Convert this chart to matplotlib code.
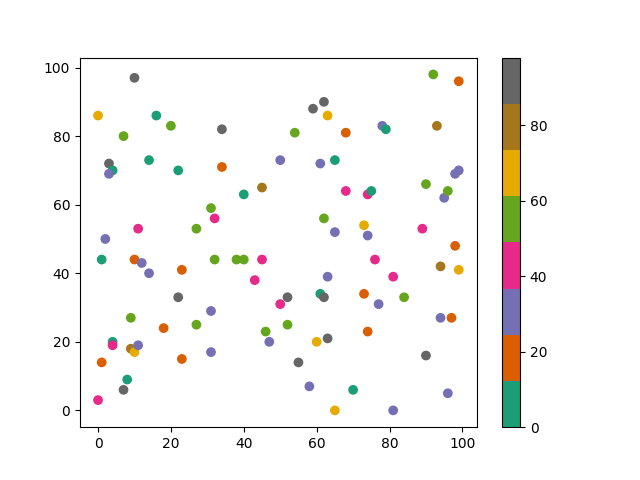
import numpy as np
import matplotlib.pyplot as plt

#### Data ####
# x position, y position and colour value of each point
X = [0, 10, 16, 20, 7, 3, 4, 3, 14, 22,
     34, 34, 2, 1, 11, 10, 12, 14, 27, 31,
     32, 23, 22, 32, 38, 40, 45, 40, 43, 45,
     50, 54, 59, 62, 63, 61, 65, 68, 62, 65,
     68, 63, 52, 50, 61, 62, 46, 52, 47, 55,
     60, 63, 58, 65, 70, 73, 74, 74, 75, 76,
     78, 79, 73, 74, 77, 81, 84, 81, 89, 90,
     92, 93, 99, 95, 96, 98, 99, 94, 98, 99,
     94, 97, 90, 96, 0, 1, 4, 4, 7, 8,
     9, 9, 10, 11, 18, 23, 27, 31, 31]
Y = [86, 97, 86, 83, 80, 72, 70, 69, 73, 70,
     82, 71, 50, 44, 53, 44, 43, 40, 53, 59,
     56, 41, 33, 44, 44, 44, 44, 63, 38, 65,
     73, 81, 88, 90, 86, 72, 73, 81, 56, 52,
     64, 39, 33, 31, 34, 33, 23, 25, 20, 14,
     20, 21, 7, 0, 6, 54, 51, 63, 64, 44,
     83, 82, 34, 23, 31, 39, 33, 0, 53, 66,
     98, 83, 96, 62, 64, 69, 70, 42, 48, 41,
     27, 27, 16, 5, 3, 14, 20, 19, 6, 9,
     27, 18, 17, 19, 24, 15, 25, 29, 17]
C = [66, 95, 4, 57, 52, 89, 8, 31, 10, 2,
     93, 17, 28, 6, 44, 20, 33, 26, 55, 50,
     41, 14, 87, 58, 53, 60, 39, 11, 46, 78,
     35, 51, 90, 98, 70, 29, 5, 22, 59, 32,
     45, 27, 91, 38, 9, 88, 54, 56, 30, 94,
     64, 86, 34, 68, 3, 72, 25, 42, 7, 47,
     36, 0, 16, 23, 31, 40, 61, 27, 43, 53,
     57, 80, 19, 33, 50, 26, 29, 76, 13, 63,
     35, 21, 92, 28, 38, 15, 1, 44, 96, 12,
     55, 82, 67, 30, 18, 24, 60, 34, 26]

plt.figure(figsize=(6.4, 4.8), dpi=100)
plt.scatter(X, Y, c=C, cmap='Dark2')
plt.colorbar()
plt.savefig('out.png')
